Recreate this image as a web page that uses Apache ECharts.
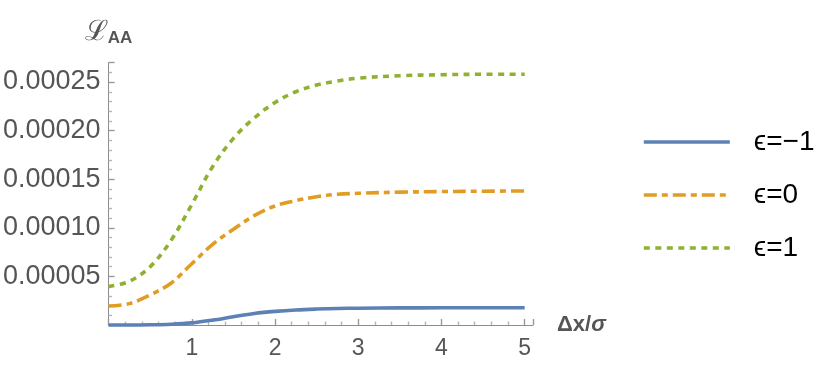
<!DOCTYPE html>
<html>
<head>
<meta charset="utf-8">
<style>
  html, body { margin: 0; padding: 0; background: #fff; }
  #chart { width: 830px; height: 385px; }
</style>
<script src="https://cdn.jsdelivr.net/npm/echarts@6/dist/echarts.min.js"></script>
</head>
<body>
<div id="chart"></div>
<script>
// values
const xs = [0, 0.25, 0.5, 0.75, 1, 1.25, 1.5, 1.75, 2, 2.25, 2.5, 2.75, 3, 3.5, 4, 4.5, 5]

const epsMinus1 = [0, 0, 0.2e-6, 0.8e-6, 2.2e-6, 5.0e-6, 8.5e-6, 11.8e-6, 14.0e-6, 15.5e-6, 16.4e-6, 17.0e-6, 17.3e-6, 17.6e-6, 17.7e-6, 17.8e-6, 17.8e-6]
const eps0 = [19.5e-6, 22e-6, 31e-6, 43e-6, 63e-6, 83e-6, 98.5e-6, 112.5e-6, 122.5e-6, 128e-6, 132e-6, 134.5e-6, 135.5e-6, 136.7e-6, 137.3e-6, 137.7e-6, 137.9e-6]
const eps1 = [39.5e-6, 45e-6, 60e-6, 87e-6, 124e-6, 163e-6, 192e-6, 213e-6, 229e-6, 240e-6, 247e-6, 251e-6, 254e-6, 256.5e-6, 257.5e-6, 258e-6, 258e-6]

const seriesNames = ["ϵ=−1", "ϵ=0", "ϵ=1"]
const yTicks = [0.00005, 0.0001, 0.00015, 0.0002, 0.00025]
const xTicks = [1, 2, 3, 4, 5]

const pairs = (ys) => xs.map((x, i) => [x, ys[i]])

const axisGray = "#8c8c8c"
const labelGray = "#555"
const lineW = 3.6

const tickOpts = {
  axisTick: { show: true, inside: true, length: 6, lineStyle: { color: "#999", width: 1.4 } },
  minorTick: { show: true, splitNumber: 5, length: 3.5, lineStyle: { color: "#b5b5b5", width: 1.4 } }
}

const chart = echarts.init(document.getElementById("chart"), null, { renderer: "canvas" })

chart.setOption({
  animation: false,
  textStyle: { fontFamily: "Liberation Sans, Arial, sans-serif" },
  grid: { left: 106, right: 297, top: 62.6, bottom: 60 },
  legend: {
    orient: "vertical",
    left: 637,
    top: 122,
    itemWidth: 86,
    itemHeight: 14,
    itemGap: 23,
    data: seriesNames,
    itemStyle: { opacity: 0 },
    lineStyle: { width: lineW },
    textStyle: { fontSize: 28, color: "#000", lineHeight: 30, padding: [0, 0, 0, 19] }
  },
  xAxis: {
    type: "value",
    min: 0,
    max: 5.1,
    interval: 1,
    name: "{b|Δx/}{i|σ}",
    nameLocation: "end",
    nameGap: 24,
    nameTextStyle: {
      rich: {
        b: { fontSize: 22, fontWeight: "bold", color: labelGray },
        i: { fontSize: 22, fontWeight: "bold", fontStyle: "italic", color: labelGray }
      }
    },
    splitLine: { show: false },
    axisLine: { show: true, onZero: false, lineStyle: { color: axisGray, width: 1 } },
    ...tickOpts,
    axisLabel: {
      fontSize: 23,
      color: labelGray,
      margin: 12,
      showMaxLabel: false,
      formatter: (v) => (xTicks.includes(v) ? String(v) : "")
    }
  },
  yAxis: {
    type: "value",
    min: 0,
    max: 0.00027,
    interval: 0.00005,
    name: "{l|ℒ}{s|AA}",
    nameLocation: "end",
    nameGap: 16,
    nameTextStyle: {
      align: "center",
      rich: {
        l: { fontSize: 28, color: labelGray, fontFamily: "DejaVu Serif" },
        s: { fontSize: 17, fontWeight: "bold", color: labelGray, verticalAlign: "bottom", padding: [10, 0, 0, 0] }
      }
    },
    splitLine: { show: false },
    axisLine: { show: true, onZero: false, lineStyle: { color: axisGray, width: 1 } },
    ...tickOpts,
    axisLabel: {
      fontSize: 27,
      color: labelGray,
      margin: 8,
      showMaxLabel: false,
      formatter: (v) => {
        const hit = yTicks.find((t) => Math.abs(t - v) < 1e-9)
        return hit ? hit.toFixed(5) : ""
      }
    }
  },
  series: [
    {
      name: seriesNames[0],
      type: "line",
      data: pairs(epsMinus1),
      smooth: 0.35,
      symbol: "none",
      clip: false,
      lineStyle: { color: "#5E81B5", width: lineW },
      itemStyle: { color: "#5E81B5" }
    },
    {
      name: seriesNames[1],
      type: "line",
      data: pairs(eps0),
      smooth: 0.35,
      symbol: "none",
      clip: false,
      lineStyle: { color: "#E19C24", width: lineW, type: [13, 5, 6, 5] },
      itemStyle: { color: "#E19C24" }
    },
    {
      name: seriesNames[2],
      type: "line",
      data: pairs(eps1),
      smooth: 0.35,
      symbol: "none",
      clip: false,
      lineStyle: { color: "#8FB131", width: lineW, type: [6, 5.5] },
      itemStyle: { color: "#8FB131" }
    }
  ]
})
</script>
</body>
</html>
